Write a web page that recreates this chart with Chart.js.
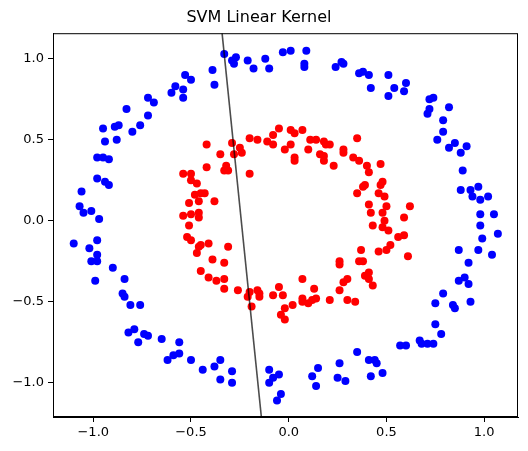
<!DOCTYPE html>
<html>
<head>
<meta charset="utf-8">
<script src="https://cdn.jsdelivr.net/npm/chart.js@4"></script>
<style>
  body { margin: 0; background: #fff; }
  canvas { display: block; }
</style>
</head>
<body>
<canvas id="svmChart" width="528" height="451"></canvas>
<script>
// Points de la classe 0 (cercle extérieur)
const bluePoints = [
  [-0.53,0.90],[-0.50,0.87],[-0.60,0.79],[-0.58,0.83],[-0.54,0.81],[-0.54,0.76],[-0.72,0.76],
  [-0.69,0.73],[-0.83,0.69],[-0.72,0.65],[-0.76,0.59],[-0.80,0.55],[-0.95,0.57],[-0.89,0.58],
  [-0.87,0.59],[-0.94,0.49],[-0.88,0.50],[-0.98,0.39],[-0.95,0.39],[-0.92,0.38],
  [-0.33,1.03],[-0.39,0.93],[-0.38,0.84],[-0.29,0.99],[-0.27,1.01],[-0.28,0.97],[-0.21,0.99],
  [-0.18,0.94],[-0.12,1.00],[-0.10,0.94],[-0.03,1.04],[0.01,1.05],[0.09,1.05],[0.08,0.97],
  [0.08,0.95],[0.24,0.95],[0.27,0.98],[0.28,0.97],
  [0.36,0.91],[0.38,0.92],[0.41,0.90],[0.51,0.90],[0.42,0.82],[0.54,0.82],[0.60,0.85],
  [0.59,0.80],[0.51,0.77],[0.72,0.75],[0.74,0.76],[0.72,0.69],[0.71,0.66],[0.82,0.70],
  [0.79,0.62],[0.79,0.55],[0.76,0.50],[0.82,0.45],[0.85,0.48],[0.91,0.46],[0.88,0.42],
  [-0.98,0.26],[-0.94,0.24],[-0.92,0.22],[-1.06,0.18],[-1.07,0.09],[-1.05,0.05],[-1.01,0.06],
  [-0.97,0.01],[-0.98,-0.12],[-1.10,-0.14],[-1.02,-0.17],[-0.98,-0.21],[-0.98,-0.25],
  [-1.01,-0.25],[-0.90,-0.29],[-0.84,-0.36],[-0.99,-0.37],[-0.85,-0.45],
  [-0.84,-0.47],[-0.81,-0.52],[-0.76,-0.52],[-0.82,-0.69],[-0.79,-0.67],[-0.77,-0.75],
  [-0.74,-0.70],[-0.72,-0.71],[-0.65,-0.73],[-0.56,-0.75],[-0.62,-0.86],[-0.59,-0.83],
  [-0.56,-0.82],[-0.50,-0.86],[-0.44,-0.92],
  [-0.38,-0.90],[-0.35,-0.86],[-0.29,-0.93],[-0.35,-0.98],[-0.29,-1.00],[-0.10,-0.92],
  [-0.05,-0.95],[-0.08,-0.97],[-0.10,-1.00],[-0.04,-1.07],[-0.06,-1.11],[0.15,-0.91],
  [0.12,-0.96],[0.14,-1.02],[0.26,-0.88],[0.25,-0.97],[0.29,-0.99],[0.35,-0.81],
  [0.79,-0.45],[0.75,-0.51],[0.84,-0.52],[0.85,-0.54],[0.93,-0.50],[0.75,-0.64],[0.78,-0.70],
  [0.67,-0.74],[0.68,-0.76],[0.71,-0.76],[0.74,-0.76],[0.57,-0.77],[0.60,-0.77],[0.41,-0.86],
  [0.44,-0.86],[0.45,-0.88],[0.42,-0.96],[0.48,-0.94],
  [0.89,0.31],[0.88,0.19],[0.93,0.19],[0.97,0.21],[0.94,0.15],[0.98,0.13],[1.02,0.15],
  [0.98,0.04],[1.05,0.04],[0.98,-0.03],[1.07,-0.08],[0.99,-0.11],[0.87,-0.18],[0.97,-0.18],
  [1.04,-0.21],[0.92,-0.26],[0.87,-0.37],[0.90,-0.35],[0.92,-0.39]
];

// Points de la classe 1 (cercle intérieur)
const redPoints = [
  [-0.05,0.57],[0.01,0.56],[0.03,0.54],[0.07,0.56],[-0.08,0.53],[-0.08,0.47],[-0.11,0.49],
  [-0.16,0.50],[-0.20,0.51],[-0.29,0.48],[-0.25,0.45],[-0.24,0.42],[-0.28,0.41],[-0.42,0.47],
  [-0.35,0.41],[-0.02,0.44],[0.01,0.47],[0.03,0.39],[0.11,0.50],[0.14,0.50],[0.10,0.44],
  [0.18,0.49],[0.21,0.47],[0.19,0.47],[0.16,0.41],[0.18,0.40],[0.28,0.44],[0.28,0.42],
  [0.35,0.51],[0.33,0.39],[0.36,0.37],
  [-0.42,0.33],[-0.32,0.34],[-0.31,0.31],[-0.33,0.31],[-0.20,0.29],[0.03,0.37],[0.23,0.34],
  [0.18,0.37],
  [0.40,0.34],[0.41,0.30],[0.47,0.35],[0.39,0.22],[0.38,0.21],[0.47,0.22],[0.48,0.24],
  [0.46,0.17],[0.49,0.15],[0.35,0.17],[0.41,0.10],[0.50,0.09],[0.62,0.09],[0.42,0.05],
  [0.48,0.05],[0.59,0.02],[0.49,0.00],[0.43,-0.03],[0.48,-0.04],[0.51,-0.06],[0.59,-0.09],
  [0.56,-0.10],[0.52,-0.15],[0.50,-0.18],[0.46,-0.19],[0.37,-0.18],[0.36,-0.25],[0.38,-0.25],
  [0.61,-0.22],[0.41,-0.32],[0.39,-0.34],[0.41,-0.36],[0.43,-0.40],
  [0.26,-0.25],[0.26,-0.27],[0.28,-0.38],[0.30,-0.36],[0.26,-0.43],[0.07,-0.36],[0.13,-0.42],
  [-0.05,-0.41],
  [-0.54,0.29],[-0.50,0.29],[-0.50,0.25],[-0.47,0.23],[-0.48,0.16],[-0.45,0.17],[-0.51,0.11],
  [-0.46,0.12],[-0.54,0.03],[-0.50,0.04],[-0.46,0.02],[-0.46,0.05],[-0.51,-0.03],[-0.52,-0.10],
  [-0.50,-0.12],[-0.46,-0.16],[-0.45,-0.15],[-0.47,-0.20],[-0.45,-0.31],
  [-0.43,0.17],[-0.38,0.12],[-0.41,-0.14],[-0.31,-0.16],[-0.39,-0.24],[-0.33,-0.26],
  [-0.41,-0.35],[-0.37,-0.37],[-0.33,-0.36],[-0.33,-0.42],[-0.26,-0.43],[-0.20,-0.44],
  [-0.16,-0.43],[-0.15,-0.45],[-0.08,-0.46],[-0.03,-0.46],
  [-0.21,-0.47],[-0.15,-0.47],[-0.19,-0.53],[0.02,-0.52],[-0.02,-0.54],[-0.04,-0.58],
  [-0.02,-0.61],[0.07,-0.50],[0.10,-0.51],[0.12,-0.49],[0.14,-0.48],[0.07,-0.48],[0.21,-0.49],
  [0.30,-0.49],[0.34,-0.50]
];

// Frontière de décision (deux extrémités)
const boundaryX = [-0.341, -0.140];
const boundaryY = [1.158, -1.212];

// Axes
const xRange = [-1.206, 1.173];
const yRange = [-1.212, 1.158];
const xTicks = [-1.0, -0.5, 0.0, 0.5, 1.0];
const yTicks = [-1.0, -0.5, 0.0, 0.5, 1.0];

const toXY = pts => pts.map(p => ({ x: p[0], y: p[1] }));
const fmt = v => (v < 0 ? '\u2212' : '') + Math.abs(v).toFixed(1);

// Cadre complet autour de la zone du graphique
const framePlugin = {
  id: 'frame',
  afterDraw(chart) {
    const a = chart.chartArea;
    const ctx = chart.ctx;
    ctx.save();
    ctx.strokeStyle = '#000';
    ctx.lineWidth = 1;
    ctx.strokeRect(a.left + 0.5, a.top + 0.5, a.right - a.left - 1, a.bottom - a.top - 1);
    ctx.restore();
  }
};

const data = {
  datasets: [
    {
      type: 'line',
      data: boundaryX.map((x, i) => ({ x: x, y: boundaryY[i] })),
      borderColor: 'rgba(0,0,0,0.7)',
      borderWidth: 1.6,
      pointRadius: 0,
      fill: false,
      order: 0
    },
    {
      type: 'scatter',
      data: toXY(bluePoints),
      backgroundColor: '#0000ff',
      borderWidth: 0,
      pointRadius: 4,
      order: 2
    },
    {
      type: 'scatter',
      data: toXY(redPoints),
      backgroundColor: '#ff0000',
      borderWidth: 0,
      pointRadius: 4,
      order: 1
    }
  ]
};

const config = {
  type: 'scatter',
  data: data,
  options: {
    responsive: false,
    animation: false,
    layout: { padding: { left: 0, right: 10, top: 0, bottom: 0 } },
    plugins: {
      legend: { display: false },
      tooltip: { enabled: false },
      title: {
        display: true,
        text: 'SVM Linear Kernel',
        color: '#000',
        font: { family: 'DejaVu Sans', size: 16, weight: 'normal' },
        padding: { top: 8, bottom: 6 }
      }
    },
    scales: {
      x: {
        type: 'linear',
        min: xRange[0],
        max: xRange[1],
        afterBuildTicks: s => { s.ticks = xTicks.map(v => ({ value: v })); },
        afterFit: s => { s.height = 34; },
        grid: { display: true, drawOnChartArea: false, drawTicks: true, tickLength: 5, color: '#000' },
        border: { display: true, color: '#000' },
        ticks: {
          color: '#000',
          padding: 3,
          maxRotation: 0,
          font: { family: 'DejaVu Sans', size: 13 },
          callback: v => fmt(v)
        }
      },
      y: {
        type: 'linear',
        min: yRange[0],
        max: yRange[1],
        afterBuildTicks: s => { s.ticks = yTicks.map(v => ({ value: v })); },
        afterFit: s => { s.width = 53; },
        grid: { display: true, drawOnChartArea: false, drawTicks: true, tickLength: 5, color: '#000' },
        border: { display: true, color: '#000' },
        ticks: {
          color: '#000',
          padding: 4,
          font: { family: 'DejaVu Sans', size: 13 },
          callback: v => fmt(v)
        }
      }
    }
  },
  plugins: [framePlugin]
};

const svmChart = new Chart(document.getElementById('svmChart'), config);
</script>
</body>
</html>
